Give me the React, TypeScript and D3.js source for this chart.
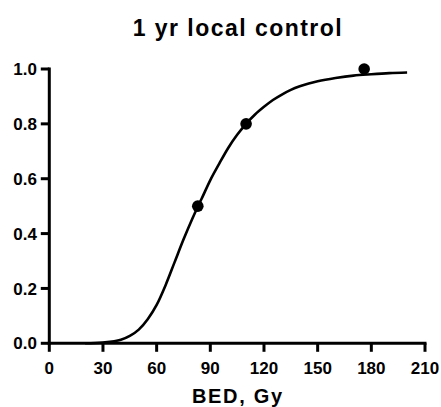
import React from "react";
import { scaleLinear, line, curveMonotoneX } from "d3";

// fitted curve
const curveDose = [20, 30, 40, 45, 50, 55, 60, 65, 70, 75, 80, 83, 85, 90, 95, 100, 105, 110, 115, 120, 125, 130, 135, 140, 145, 150, 160, 170, 180, 190, 200];
const curveLC = [0.0, 0.003, 0.013, 0.027, 0.05, 0.088, 0.14, 0.212, 0.295, 0.378, 0.455, 0.498, 0.525, 0.595, 0.655, 0.712, 0.76, 0.8, 0.834, 0.862, 0.887, 0.907, 0.924, 0.937, 0.947, 0.955, 0.967, 0.976, 0.981, 0.985, 0.987];

// observed points
const pointDose = [83, 110, 176];
const pointLC = [0.5, 0.8, 1.0];

const xTicks = [0, 30, 60, 90, 120, 150, 180, 210];
const yTicks = [0, 0.2, 0.4, 0.6, 0.8, 1.0];

const title = "1 yr local control";
const xLabel = "BED, Gy";

const W = 441;
const H = 407;
const LEFT = 49.3;
const RIGHT = 425;
const TOP = 69;
const BOTTOM = 343.3;
const FONT = "'Liberation Sans', Arial, sans-serif";

export default function App() {
  const x = scaleLinear().domain([0, 210]).range([LEFT, RIGHT]);
  const y = scaleLinear().domain([0, 1]).range([BOTTOM, TOP]);

  const pts: [number, number][] = curveDose.map((d, i) => [d, curveLC[i]]);
  const path = line<[number, number]>()
    .x(d => x(d[0]))
    .y(d => y(d[1]))
    .curve(curveMonotoneX)(pts)!;

  return (
    <svg
      width={W}
      height={H}
      style={{ position: "absolute", left: 0, top: 0, background: "#fff" }}
      fontFamily={FONT}
      fontWeight="bold"
    >
      <text x={237.2} y={35.7} fontSize={23} textAnchor="middle" textLength={209} lengthAdjust="spacing">
        {title}
      </text>

      {/* curve */}
      <path d={path} fill="none" stroke="#000" strokeWidth={2.6} />
      {pointDose.map((d, i) => (
        <circle key={i} cx={x(d)} cy={y(pointLC[i])} r={5.8} fill="#000" />
      ))}

      {/* y axis */}
      <line x1={LEFT} x2={LEFT} y1={TOP - 1.5} y2={BOTTOM + 1.5} stroke="#000" strokeWidth={3} />
      {yTicks.map(v => (
        <g key={v} transform={`translate(0, ${y(v)})`}>
          <line x1={LEFT - 8.5} x2={LEFT} stroke="#000" strokeWidth={3} />
          <text x={37} dy="0.36em" fontSize={17} textAnchor="end">
            {v.toFixed(1)}
          </text>
        </g>
      ))}

      {/* x axis */}
      <line x1={LEFT - 1.5} x2={RIGHT + 1.5} y1={BOTTOM} y2={BOTTOM} stroke="#000" strokeWidth={3} />
      {xTicks.map(v => (
        <g key={v} transform={`translate(${x(v)}, 0)`}>
          <line y1={BOTTOM} y2={BOTTOM + 8.5} stroke="#000" strokeWidth={3} />
          <text y={373.5} fontSize={17} textAnchor="middle">
            {v}
          </text>
        </g>
      ))}

      <text x={237} y={402.7} fontSize={20} textAnchor="middle" textLength={90} lengthAdjust="spacing">
        {xLabel}
      </text>
    </svg>
  );
}
